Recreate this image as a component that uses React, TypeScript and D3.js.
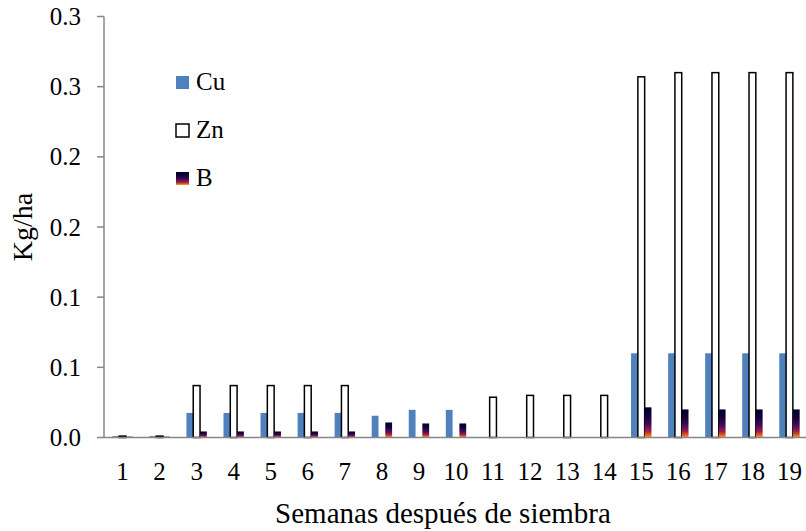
import React, { useMemo } from "react";
import * as d3 from "d3";

// Weekly micronutrient uptake (kg/ha) per week after sowing
const weeks = ["1", "2", "3", "4", "5", "6", "7", "8", "9", "10", "11", "12", "13", "14", "15", "16", "17", "18", "19"];
const cuValues = [0.001, 0.001, 0.0175, 0.0175, 0.0175, 0.0175, 0.0175, 0.0155, 0.0197, 0.0197, 0, 0, 0, 0, 0.06, 0.06, 0.06, 0.06, 0.06];
const znValues = [0.001, 0.001, 0.037, 0.037, 0.037, 0.037, 0.037, 0, 0, 0, 0.0287, 0.03, 0.03, 0.03, 0.257, 0.26, 0.26, 0.26, 0.26];
const bValues = [0.0006, 0.0006, 0.0043, 0.0043, 0.0043, 0.0043, 0.0043, 0.0107, 0.01, 0.01, 0, 0, 0, 0, 0.0215, 0.02, 0.02, 0.02, 0.02];
const yTickValues = [0, 0.05, 0.1, 0.15, 0.2, 0.25, 0.3];
const yTickLabels = ["0.0", "0.1", "0.1", "0.2", "0.2", "0.3", "0.3"];
const seriesNames = ["Cu", "Zn", "B"];

const W = 806;
const H = 531;
const margin = { left: 104, right: -2, top: 16.5, bottom: 93.5 };
const FONT = "'Times New Roman', Tinos, 'Liberation Serif', 'Nimbus Roman', serif";

export default function App() {
  const x = useMemo(
    () => d3.scaleBand<string>().domain(weeks).range([margin.left, W - margin.right]).paddingInner(0).paddingOuter(0),
    []
  );
  const y = useMemo(() => d3.scaleLinear().domain([0, 0.3]).range([H - margin.bottom, margin.top]), []);
  const barW = 6.8;
  const axisColor = "#868686";
  const y0 = y(0);

  const series = [
    { name: "Cu", values: cuValues, offset: -1.5 },
    { name: "Zn", values: znValues, offset: -0.5 },
    { name: "B", values: bValues, offset: 0.5 },
  ];

  const barProps = (name: string) => {
    if (name === "Cu") return { fill: "#4F81BD" };
    if (name === "Zn") return { fill: "#ffffff", stroke: "#000000", strokeWidth: 1.5 };
    return { fill: "url(#fireGrad)" };
  };

  return (
    <svg width={W} height={H} style={{ position: "absolute", left: 0, top: 0, background: "#fff" }}>
      <defs>
        <linearGradient id="fireGrad" x1="0" y1="0" x2="0" y2="1">
          <stop offset="0" stopColor="#00002e" />
          <stop offset="0.3" stopColor="#140038" />
          <stop offset="0.58" stopColor="#4a0c5a" />
          <stop offset="0.78" stopColor="#9a1f48" />
          <stop offset="0.9" stopColor="#e2561c" />
          <stop offset="1" stopColor="#f7a81e" />
        </linearGradient>
      </defs>

      {/* bars */}
      {series.map((s) => (
        <g key={s.name}>
          {s.values.map((v, i) => {
            const cx = (x(weeks[i]) as number) + x.bandwidth() / 2;
            const top = y(v);
            return (
              <rect
                key={i}
                x={cx + s.offset * barW}
                y={top}
                width={barW}
                height={Math.max(0, y0 - top)}
                {...barProps(s.name)}
              />
            );
          })}
        </g>
      ))}

      {/* y axis */}
      <line x1={margin.left} x2={margin.left} y1={margin.top} y2={y0} stroke={axisColor} strokeWidth={1.5} />
      {yTickValues.map((t, i) => (
        <g key={i}>
          <line x1={margin.left - 7} x2={margin.left} y1={y(t)} y2={y(t)} stroke={axisColor} strokeWidth={1.5} />
          <text
            x={margin.left - 23}
            y={y(t) + 8.5}
            textAnchor="end"
            fontFamily={FONT}
            fontSize={25}
            fill="#000"
          >
            {yTickLabels[i]}
          </text>
        </g>
      ))}

      {/* x axis */}
      <line x1={margin.left} x2={W} y1={y0} y2={y0} stroke={axisColor} strokeWidth={1.5} />
      {weeks.map((w) => (
        <text
          key={w}
          x={(x(w) as number) + x.bandwidth() / 2}
          y={y0 + 42}
          textAnchor="middle"
          fontFamily={FONT}
          fontSize={25}
          fill="#000"
        >
          {w}
        </text>
      ))}

      {/* axis titles */}
      <text
        x={(margin.left + W) / 2 - 12}
        y={H - 8}
        textAnchor="middle"
        fontFamily={FONT}
        fontSize={29}
        fill="#000"
      >
        Semanas después de siembra
      </text>
      <text
        transform={`translate(32,${(margin.top + y0) / 2}) rotate(-90)`}
        textAnchor="middle"
        fontFamily={FONT}
        fontSize={28}
        fill="#000"
      >
        Kg/ha
      </text>

      {/* legend */}
      {seriesNames.map((n, i) => {
        const ly = 76 + i * 48;
        return (
          <g key={n}>
            <rect x={176} y={ly} width={13} height={13} {...barProps(n)} strokeWidth={n === "Zn" ? 1.5 : 0} />
            <text x={196} y={ly + 14} fontFamily={FONT} fontSize={25} fill="#000">
              {n}
            </text>
          </g>
        );
      })}
    </svg>
  );
}
